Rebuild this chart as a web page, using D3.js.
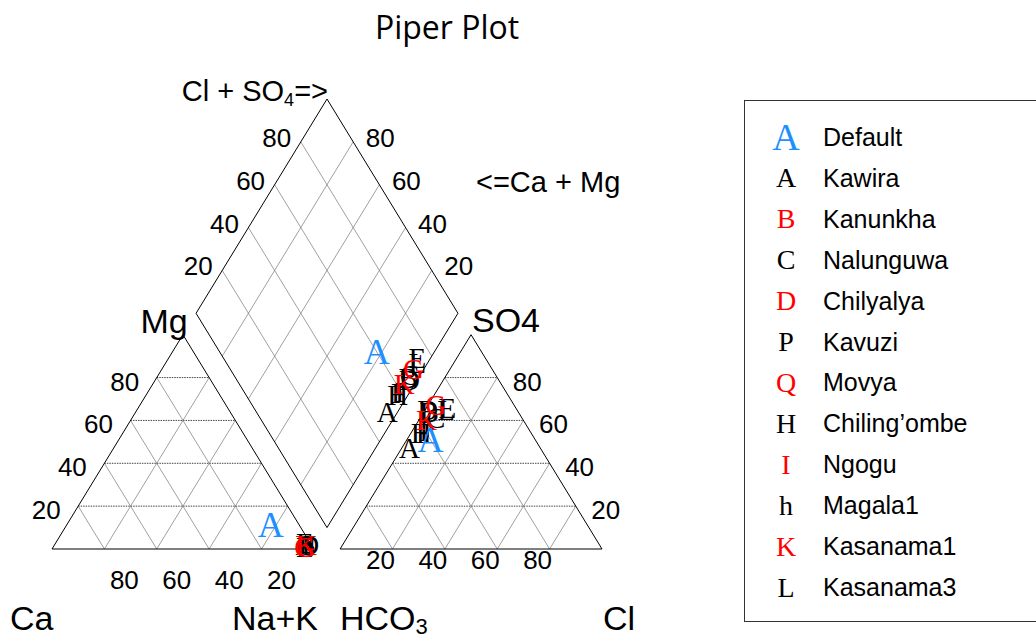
<!DOCTYPE html>
<html>
<head>
<meta charset="utf-8">
<style>
  body { margin: 0; background: #fff; }
  svg { display: block; }
  .tick { font-family: "Liberation Sans", Arial, sans-serif; font-size: 26px; }
</style>
</head>
<body>
<svg width="1036" height="636"></svg>
<script src="https://d3js.org/d3.v7.min.js"></script>
<script>

// samples, in legend order
var sampleNames = ["Default", "Kawira", "Kanunkha", "Nalunguwa", "Chilyalya", "Kavuzi",
                   "Movya", "Chiling\u2019ombe", "Ngogu", "Magala1", "Kasanama1", "Kasanama3"];
var legendMarks = ["A", "A", "B", "C", "D", "P", "Q", "H", "I", "h", "K", "L"];
var legendColors = ["#1e8fff", "#000", "#f00", "#000", "#f00", "#000", "#f00", "#000", "#f00", "#000", "#f00", "#000"];
var plotMarks = ["A", "A", "B", "C", "D", "E", "F", "G", "H", "I", "K", "L"];
var plotColors = ["#1e8fff", "#000", "#000", "#000", "#000", "#000", "#000", "#f00", "#000", "#000", "#f00", "#000"];

// cations (% meq)
var caPct  = [11, 2, 2, 3, 1, 2, 2, 3, 2, 2, 2, 3];
var mgPct  = [11, 2, 2, 1, 2, 3, 2, 1, 2, 2, 2, 1];
var nakPct = [78, 96, 96, 96, 97, 95, 96, 96, 96, 96, 96, 96];

// anions (% meq)
var hco3Pct = [40, 50, 34, 33, 34, 26, 41, 30, 42, 40.5, 37, 27];
var so4Pct  = [51, 47, 64, 61, 65, 66, 54, 67, 54, 55, 60, 65];
var clPct   = [ 9,  3,  2,  6,  1,  8,  5,  3,  4, 4.5,  3,  8];

var tickVals = [20, 40, 60, 80];

var width = 1036, height = 636;
var svg = d3.select("svg").attr("width", width).attr("height", height);

var H = Math.sqrt(3) / 2;   // height of a unit triangle
var gap = 0.1;              // gap between the two triangles

var x = d3.scaleLinear().domain([0, 2 + gap]).range([52, 602]);
var y = d3.scaleLinear().domain([0, 2 * H + gap * H]).range([549, 99]);

// ternary -> plane
function catXY(ca, mg, nak) {
  var s = ca + mg + nak;
  return [nak / s + mg / s / 2, mg / s * H];
}
function anXY(hco3, so4, cl) {
  var s = hco3 + so4 + cl;
  return [1 + gap + cl / s + so4 / s / 2, so4 / s * H];
}
function diaXY(c, a) {
  var t = (a[0] - c[0]) + (a[1] - c[1]) / Math.sqrt(3);
  return [c[0] + 0.5 * t, c[1] + H * t];
}
function lerp(p, q, f) { return [p[0] + (q[0] - p[0]) * f, p[1] + (q[1] - p[1]) * f]; }

var line = d3.line().x(function(d) { return x(d[0]); }).y(function(d) { return y(d[1]); });

// shape corners
var lt = [[0, 0], [1, 0], [0.5, H]];
var rt = [[1 + gap, 0], [2 + gap, 0], [1.5 + gap, H]];
var dB = [1 + gap / 2, gap * H], dL = [0.5 + gap / 2, H + gap * H],
    dR = [1.5 + gap / 2, H + gap * H], dT = [1 + gap / 2, 2 * H + gap * H];

var grid = svg.append("g");

function seg(p, q, dotted) {
  grid.append("path")
    .attr("d", line([p, q]))
    .attr("fill", "none")
    .attr("stroke", dotted ? "#444" : "#777")
    .attr("stroke-width", dotted ? 1 : 0.7)
    .attr("stroke-dasharray", dotted ? "1.5,1" : null);
}

tickVals.forEach(function(v) {
  var f = v / 100;
  // left triangle
  seg(lerp(lt[0], lt[2], f), lerp(lt[1], lt[2], f), true);
  seg(lerp(lt[0], lt[1], f), lerp(lt[1], lt[2], 1 - f), false);
  seg(lerp(lt[0], lt[1], f), lerp(lt[0], lt[2], f), false);
  // right triangle
  seg(lerp(rt[0], rt[2], f), lerp(rt[1], rt[2], f), true);
  seg(lerp(rt[0], rt[1], f), lerp(rt[1], rt[2], 1 - f), false);
  seg(lerp(rt[0], rt[1], f), lerp(rt[0], rt[2], f), false);
  // diamond
  seg(lerp(dB, dR, f), lerp(dL, dT, f), false);
  seg(lerp(dB, dL, f), lerp(dR, dT, f), false);
});

// outlines
[[lt[0], lt[1], lt[2], lt[0]], [rt[0], rt[1], rt[2], rt[0]], [dB, dR, dT, dL, dB]].forEach(function(pts) {
  svg.append("path").attr("d", line(pts))
    .attr("fill", "none").attr("stroke", "#000").attr("stroke-width", 1);
});

// tick labels
var ticks = svg.append("g").attr("class", "tick").attr("text-anchor", "middle");
function tickText(p, dx, dy, t) {
  ticks.append("text").attr("x", x(p[0]) + dx).attr("y", y(p[1]) + dy)
    .attr("dominant-baseline", "central").text(t);
}
tickVals.forEach(function(v) {
  var f = v / 100;
  tickText(lerp(lt[0], lt[2], f), -32, 4, v);          // Mg
  tickText([1 - f, 0], 20, 31, v);                     // Ca
  tickText(lerp(rt[1], rt[2], f), 30, 4, v);           // SO4
  tickText([1 + gap + f, 0], -12, 11, v);              // Cl
  tickText(lerp(dL, dT, f), -24, -4, v);               // diamond left
  tickText(lerp(dR, dT, f), 27, -4, v);                // diamond right
});

// axis names
var names = svg.append("g").attr("font-family", "Liberation Sans, Arial, sans-serif").attr("fill", "#000");
names.append("text").attr("x", 164).attr("y", 333).attr("text-anchor", "middle").attr("font-size", 34).text("Mg");
names.append("text").attr("x", 506).attr("y", 332).attr("text-anchor", "middle").attr("font-size", 34).text("SO4");
var t1 = names.append("text").attr("x", 328).attr("y", 101).attr("text-anchor", "end").attr("font-size", 29);
t1.append("tspan").text("Cl + SO");
t1.append("tspan").attr("font-size", 18).attr("dy", 5).text("4");
t1.append("tspan").attr("dy", -5).text("=>");
names.append("text").attr("x", 476).attr("y", 192).attr("font-size", 29).text("<=Ca + Mg");
names.append("text").attr("x", 10).attr("y", 630).attr("font-size", 34).text("Ca");
names.append("text").attr("x", 232).attr("y", 630).attr("font-size", 34).text("Na+K");
var t2 = names.append("text").attr("x", 340).attr("y", 630).attr("font-size", 34);
t2.append("tspan").text("HCO");
t2.append("tspan").attr("font-size", 22).attr("dy", 4).text("3");
names.append("text").attr("x", 603).attr("y", 630).attr("font-size", 34).text("Cl");

// title
svg.append("text").attr("x", 447).attr("y", 39).attr("text-anchor", "middle")
  .attr("font-family", "Open Sans, sans-serif").attr("font-size", 32).text("Piper Plot");

// points
var samples = sampleNames.map(function(n, i) {
  var c = catXY(caPct[i], mgPct[i], nakPct[i]);
  var a = anXY(hco3Pct[i], so4Pct[i], clPct[i]);
  return { name: n, mark: plotMarks[i], color: plotColors[i], big: i === 0,
           order: i === 0 ? 2 : (plotColors[i] === "#f00" ? 1 : 0),
           pts: [c, a, diaXY(c, a)] };
});
samples.sort(function(a, b) { return a.order - b.order; });

var pts = [];
samples.forEach(function(s) { s.pts.forEach(function(p) { pts.push({ s: s, p: p }); }); });

svg.append("g").selectAll("text").data(pts).enter().append("text")
  .attr("x", function(d) { return x(d.p[0]); })
  .attr("y", function(d) { return y(d.p[1]); })
  .attr("text-anchor", "middle")
  .attr("dominant-baseline", "central")
  .attr("font-family", "Liberation Serif, Times New Roman, serif")
  .attr("font-size", function(d) { return d.s.big ? 36 : 29; })
  .attr("fill", function(d) { return d.s.color; })
  .text(function(d) { return d.s.mark; });

// legend
var ly = d3.scalePoint().domain(sampleNames).range([137, 587]);
var legend = svg.append("g");
legend.append("rect").attr("x", 744.5).attr("y", 100.5).attr("width", 400).attr("height", 521)
  .attr("fill", "none").attr("stroke", "#333").attr("stroke-width", 1);
var rows = legend.selectAll("g.row").data(sampleNames).enter().append("g")
  .attr("transform", function(d) { return "translate(0," + ly(d) + ")"; });
rows.append("text").attr("x", 786).attr("text-anchor", "middle").attr("dominant-baseline", "central")
  .attr("font-family", "Liberation Serif, Times New Roman, serif")
  .attr("font-size", function(d, i) { return i === 0 ? 38 : 28; })
  .attr("fill", function(d, i) { return legendColors[i]; })
  .text(function(d, i) { return legendMarks[i]; });
rows.append("text").attr("x", 823).attr("dominant-baseline", "central")
  .attr("font-family", "Liberation Sans, Arial, sans-serif").attr("font-size", 25)
  .text(function(d) { return d; });

</script>
</body>
</html>
